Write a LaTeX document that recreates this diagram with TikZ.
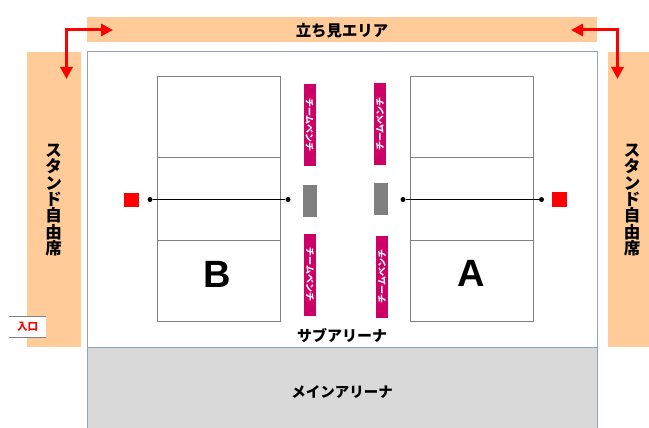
\documentclass[tikz,border=0pt]{standalone}
\usepackage{fontspec}
\setmainfont{Liberation Sans}
\newfontfamily\cjk{Noto Sans CJK JP}
\usetikzlibrary{arrows.meta}
\definecolor{bandorange}{HTML}{FFCC99}
\definecolor{arenablue}{HTML}{8EA2C6}
\definecolor{benchred}{HTML}{CC0066}
\tikzstyle{band} = [rectangle, inner sep=0pt, fill=bandorange]
\tikzstyle{standlabel} = [inner sep=0pt, font=\cjk\bfseries\fontsize{16.5}{16.4}\selectfont, align=center]
\tikzstyle{arena} = [rectangle, inner sep=0pt, minimum width=510pt, draw=arenablue, line width=1pt]
\tikzstyle{court} = [rectangle, inner sep=0pt, minimum width=123pt, draw=black!50, line width=1pt]
\tikzstyle{letter} = [inner sep=0pt, font=\bfseries\fontsize{38}{38}\selectfont]
\tikzstyle{bench} = [rectangle, inner sep=0pt, minimum width=12pt, minimum height=82pt, fill=benchred, text=white, font=\cjk\bfseries\fontsize{9}{9}\selectfont]
\tikzstyle{post} = [rectangle, inner sep=0pt, minimum width=14.5pt, minimum height=32pt, fill=black!50]
\tikzstyle{flag} = [rectangle, inner sep=0pt, minimum size=14.5pt, fill=red]
\tikzstyle{dot} = [circle, inner sep=0pt, minimum size=5pt, fill=black]
\tikzstyle{title} = [inner sep=0pt, font=\cjk\bfseries\fontsize{14.5}{16}\selectfont]
\tikzstyle{arrow} = [red, line width=3pt, {Triangle[length=12pt,width=12pt]}-{Triangle[length=12pt,width=12pt]}]
\begin{document}
\begin{tikzpicture}[x=1pt,y=-1pt]
    \useasboundingbox (0,0) rectangle (649,428);

    \node (sub) [arena, minimum height=295pt, fill=white] at (342,199.5) {};
    \node (main) [arena, minimum height=82pt, fill=black!15] at (342,388) {};
    \node (mainlabel) [title] at (342,392) {メインアリーナ};
    \node (sublabel) [title, font=\cjk\bfseries\fontsize{15}{16}\selectfont] at (342,335) {サブアリーナ};

    \node (top) [band, minimum width=510pt, minimum height=25pt] at (342,29.5) {};
    \node (toplabel) [title, font=\cjk\bfseries\fontsize{15.4}{16}\selectfont] at (342,30.5) {立ち見エリア};
    \node (left) [band, minimum width=54pt, minimum height=295pt] at (54,199.5) {};
    \node (right) [band, minimum width=41pt, minimum height=295pt] at (628.5,199.5) {};
    \node (leftlabel) [standlabel] at (53.5,200) {ス\\タ\\ン\\ド\\自\\由\\席};
    \node (rightlabel) [standlabel] at (632,200) {ス\\タ\\ン\\ド\\自\\由\\席};

    \node (b1) [court, minimum height=81pt] at (218.5,117.5) {};
    \node (b2) [court, minimum height=82pt] at (218.5,199) {};
    \node (b3) [court, minimum height=81pt] at (218.5,280.5) {};
    \node (a1) [court, minimum height=81pt] at (471.5,117.5) {};
    \node (a2) [court, minimum height=82pt] at (471.5,199) {};
    \node (a3) [court, minimum height=81pt] at (471.5,280.5) {};
    \node (blabel) [letter] at (217,274.5) {B};
    \node (alabel) [letter] at (471,273.5) {A};

    \node (dotb1) [dot] at (150,199.5) {};
    \node (dotb2) [dot] at (288,199.5) {};
    \node (dota1) [dot] at (403,199.5) {};
    \node (dota2) [dot] at (541.5,199.5) {};
    \draw[black, line width=1pt] (dotb1) -- (dotb2);
    \draw[black, line width=1pt] (dota1) -- (dota2);

    \node (flagb) [flag] at (131.5,200) {};
    \node (flaga) [flag] at (559.5,199.5) {};
    \node (postb) [post] at (310,201) {};
    \node (posta) [post] at (381,199) {};

    \node (bench1) [bench] at (309.5,125) {\rotatebox{-90}{チームベンチ}};
    \node (bench2) [bench] at (380,124) {\rotatebox{90}{チームベンチ}};
    \node (bench3) [bench] at (310,274.5) {\rotatebox{-90}{チームベンチ}};
    \node (bench4) [bench] at (382,276.5) {\rotatebox{90}{チームベンチ}};

    \node (entry) [rectangle, inner sep=0pt, minimum width=37pt, minimum height=21pt, fill=white, text=red, font=\cjk\bfseries\fontsize{10.5}{11}\selectfont] at (27.5,327) {入口};
    \draw[black!50, line width=1pt] (entry.north west) -- (entry.north east);
    \draw[black!50, line width=1pt] (entry.south west) -- (entry.south east);

    \coordinate (turnl) at (66.5,30);
    \coordinate (tipl1) at (113,30);
    \coordinate (tipl2) at (66.5,79);
    \coordinate (turnr) at (617.5,30);
    \coordinate (tipr1) at (571,30);
    \coordinate (tipr2) at (617.5,79);
    \draw[arrow] (tipl1) -- (turnl) -- (tipl2);
    \draw[arrow] (tipr1) -- (turnr) -- (tipr2);
\end{tikzpicture}
\end{document}
